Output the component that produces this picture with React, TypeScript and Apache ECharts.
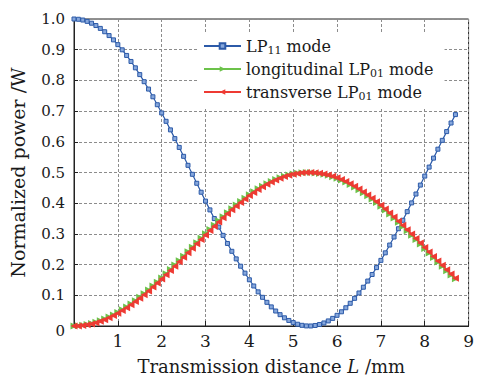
import React, { useEffect, useRef } from "react";
import * as echarts from "echarts";

const X = [
  0, 0.1, 0.2, 0.3, 0.4, 0.5, 0.6, 0.7, 0.8, 0.9,
  1.0, 1.1, 1.2, 1.3, 1.4, 1.5, 1.6, 1.7, 1.8, 1.9,
  2.0, 2.1, 2.2, 2.3, 2.4, 2.5, 2.6, 2.7, 2.8, 2.9,
  3.0, 3.1, 3.2, 3.3, 3.4, 3.5, 3.6, 3.7, 3.8, 3.9,
  4.0, 4.1, 4.2, 4.3, 4.4, 4.5, 4.6, 4.7, 4.8, 4.9,
  5.0, 5.1, 5.2, 5.3, 5.4, 5.5, 5.6, 5.7, 5.8, 5.9,
  6.0, 6.1, 6.2, 6.3, 6.4, 6.5, 6.6, 6.7, 6.8, 6.9,
  7.0, 7.1, 7.2, 7.3, 7.4, 7.5, 7.6, 7.7, 7.8, 7.9,
  8.0, 8.1, 8.2, 8.3, 8.4, 8.5, 8.6, 8.7,
];

const LP11 = [
  1.0, 0.9991, 0.9966, 0.9923, 0.9863, 0.9787, 0.9694, 0.9585, 0.946, 0.932,
  0.9165, 0.8996, 0.8813, 0.8617, 0.8409, 0.8189, 0.7958, 0.7717, 0.7466, 0.7207,
  0.694, 0.6667, 0.6388, 0.6104, 0.5817, 0.5527, 0.5234, 0.4941, 0.4649, 0.4357,
  0.4068, 0.3782, 0.35, 0.3223, 0.2952, 0.2688, 0.2433, 0.2186, 0.1948, 0.1722,
  0.1506, 0.1303, 0.1112, 0.0934, 0.0771, 0.0622, 0.0488, 0.0369, 0.0267, 0.0181,
  0.0111, 0.0058, 0.0022, 0.0003, 0.0001, 0.0017, 0.0049, 0.0099, 0.0165, 0.0248,
  0.0348, 0.0463, 0.0594, 0.074, 0.0901, 0.1075, 0.1263, 0.1464, 0.1678, 0.1902,
  0.2138, 0.2383, 0.2637, 0.2899, 0.3168, 0.3444, 0.3725, 0.401, 0.4299, 0.459,
  0.4883, 0.5176, 0.5468, 0.5759, 0.6047, 0.6332, 0.6612, 0.6886,
];

const LONG01 = [
  0.0, 0.0007, 0.0024, 0.0045, 0.0079, 0.0119, 0.0167, 0.0224, 0.029, 0.036,
  0.0439, 0.0526, 0.0617, 0.0716, 0.0823, 0.0933, 0.1051, 0.1171, 0.1299, 0.1429,
  0.1565, 0.1704, 0.1843, 0.1984, 0.2126, 0.2274, 0.2422, 0.2565, 0.2713, 0.2856,
  0.3003, 0.3145, 0.3285, 0.3425, 0.3557, 0.3688, 0.3817, 0.3939, 0.4053, 0.4165,
  0.4274, 0.4375, 0.4467, 0.4552, 0.4633, 0.4705, 0.4773, 0.4828, 0.4879, 0.492,
  0.4953, 0.4976, 0.499, 0.4999, 0.5, 0.4986, 0.4968, 0.4941, 0.4909, 0.4863,
  0.4813, 0.4755, 0.4687, 0.461, 0.453, 0.4441, 0.4344, 0.4239, 0.4136, 0.402,
  0.3901, 0.378, 0.3651, 0.3516, 0.3383, 0.3244, 0.3104, 0.2958, 0.2816, 0.2668,
  0.2525, 0.2376, 0.2228, 0.2085, 0.1943, 0.1797, 0.1662, 0.1539,
];

const TRANS01 = [
  0.0, 0.0004, 0.0017, 0.0039, 0.0068, 0.0107, 0.0153, 0.0207, 0.027, 0.034,
  0.0418, 0.0502, 0.0593, 0.0692, 0.0796, 0.0906, 0.1021, 0.1142, 0.1267, 0.1397,
  0.153, 0.1667, 0.1806, 0.1948, 0.2092, 0.2237, 0.2383, 0.253, 0.2676, 0.2821,
  0.2966, 0.3109, 0.325, 0.3389, 0.3524, 0.3656, 0.3784, 0.3907, 0.4026, 0.4139,
  0.4247, 0.4349, 0.4444, 0.4533, 0.4615, 0.4689, 0.4756, 0.4815, 0.4867, 0.491,
  0.4945, 0.4971, 0.4989, 0.4998, 0.4999, 0.4992, 0.4975, 0.4951, 0.4917, 0.4876,
  0.4826, 0.4769, 0.4703, 0.463, 0.455, 0.4462, 0.4368, 0.4268, 0.4161, 0.4049,
  0.3931, 0.3809, 0.3682, 0.3551, 0.3416, 0.3278, 0.3138, 0.2995, 0.2851, 0.2705,
  0.2559, 0.2412, 0.2266, 0.212, 0.1976, 0.1834, 0.1694, 0.1557,
];

const SERIES_NAMES = ["LP11 mode", "longitudinal LP01 mode", "transverse LP01 mode"];
const LEGEND_RICH: Record<string, string> = {
  "LP11 mode": "{t|LP}{s|11}{t| mode}",
  "longitudinal LP01 mode": "{t|longitudinal LP}{s|01}{t| mode}",
  "transverse LP01 mode": "{t|transverse LP}{s|01}{t| mode}",
};
const X_NAME = "{n|Transmission distance }{i|L}{n| /mm}";
const Y_NAME = "Normalized power /W";

const FONT = "DejaVu Serif";
const INK = "#1a1a1a";

function pairs(ys: number[]) {
  return ys.map((y, i) => [X[i], y]);
}

export default function App() {
  const ref = useRef<HTMLDivElement>(null);
  useEffect(() => {
    if (!ref.current) return;
    const chart = echarts.init(ref.current, null, { renderer: "svg" });
    const gridLine = { show: true, lineStyle: { type: [3, 2], color: "#8c8c8c", width: 1 } };
    chart.setOption({
      animation: false,
      backgroundColor: "#fff",
      grid: {
        left: 74,
        right: 3,
        top: 19,
        bottom: 48,
        show: true,
        borderColor: "#222",
        borderWidth: 1,
        backgroundColor: "transparent",
      },
      legend: {
        orient: "vertical",
        left: 197,
        top: 33,
        padding: [5, 11, 5, 6],
        backgroundColor: "#fff",
        itemWidth: 37,
        itemHeight: 7,
        itemGap: 5,
        data: SERIES_NAMES,
        formatter: (name: string) => LEGEND_RICH[name] || name,
        textStyle: {
          fontFamily: FONT,
          fontSize: 16,
          color: INK,
          rich: {
            t: { fontFamily: FONT, fontSize: 16, color: INK },
            s: { fontFamily: FONT, fontSize: 11, color: INK, padding: [9, 0, 0, 0] },
          },
        },
      },
      xAxis: {
        type: "value",
        min: 0,
        max: 9,
        interval: 1,
        name: X_NAME,
        nameLocation: "middle",
        nameGap: 31,
        nameTextStyle: {
          fontFamily: FONT,
          fontSize: 18,
          color: INK,
          rich: {
            n: { fontFamily: FONT, fontSize: 18, color: INK },
            i: { fontFamily: FONT, fontSize: 18, color: INK, fontStyle: "italic" },
          },
        },
        axisLine: { show: true, lineStyle: { color: "#222", width: 1 } },
        axisTick: { show: true, inside: true, length: 5, lineStyle: { color: "#222" } },
        axisLabel: {
          fontFamily: FONT,
          fontSize: 17,
          color: INK,
          margin: 6,
          formatter: (v: number) => (v === 0 ? "" : String(v)),
        },
        splitLine: gridLine,
      },
      yAxis: {
        type: "value",
        min: 0,
        max: 1,
        interval: 0.1,
        name: Y_NAME,
        nameLocation: "middle",
        nameGap: 47,
        nameTextStyle: { fontFamily: FONT, fontSize: 19, color: INK },
        axisLine: { show: true, lineStyle: { color: "#222", width: 1 } },
        axisTick: { show: true, inside: true, length: 4, lineStyle: { color: "#222" } },
        axisLabel: {
          fontFamily: FONT,
          fontSize: 15,
          color: INK,
          margin: 9,
          formatter: (v: number) => (v === 0 ? "{z|0}" : v.toFixed(1)),
          rich: { z: { fontFamily: FONT, fontSize: 15, color: INK, padding: [10, 0, 0, 0] } },
        },
        splitLine: gridLine,
      },
      series: [
        {
          name: SERIES_NAMES[0],
          type: "line",
          data: pairs(LP11),
          symbol: "rect",
          symbolSize: 4,
          lineStyle: { color: "#2c5aa8", width: 1.2 },
          itemStyle: { color: "#86a7dc", borderColor: "#2c5aa8", borderWidth: 1 },
          z: 3,
        },
        {
          name: SERIES_NAMES[1],
          type: "line",
          data: pairs(LONG01),
          symbol: "triangle",
          symbolRotate: -90,
          symbolSize: 7,
          lineStyle: { color: "#6cc24a", width: 1.2 },
          itemStyle: { color: "#6cc24a" },
          z: 4,
        },
        {
          name: SERIES_NAMES[2],
          type: "line",
          data: pairs(TRANS01),
          symbol: "triangle",
          symbolRotate: 90,
          symbolSize: 7,
          lineStyle: { color: "#ee3a33", width: 1.2 },
          itemStyle: { color: "#ee3a33" },
          z: 5,
        },
      ],
    });
    return () => chart.dispose();
  }, []);
  return (
    <div
      ref={ref}
      style={{ position: "fixed", left: 0, top: 0, width: 477, height: 380 }}
    />
  );
}
